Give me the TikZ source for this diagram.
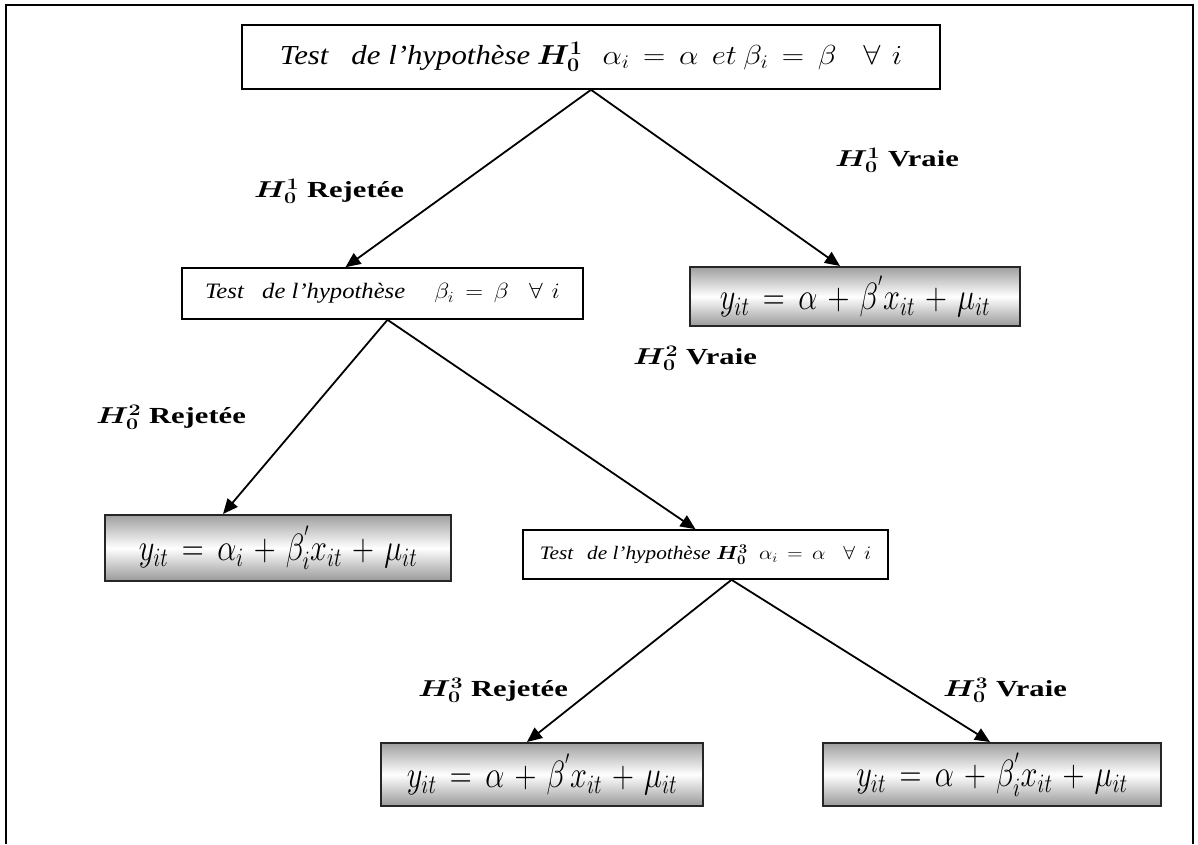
\RequirePackage{fix-cm}
\documentclass[tikz,border=0pt]{standalone}
\usepackage{fontspec}
\setmainfont{Liberation Serif}
\usepackage{bm}
\usepackage{graphicx}
\usetikzlibrary{arrows.meta}
\newcommand{\hsc}[2]{\scalebox{#1}[1]{#2}}
\thickmuskip=8mu plus 2mu
\medmuskip=6mu plus 2mu
\tikzset{
  testbox/.style={draw, line width=1.6pt, fill=white, inner sep=0pt, align=center},
  modelbox/.style={draw=black!85, line width=2pt, inner sep=0pt, top color=gray!75, bottom color=gray!80, middle color=white,
    font=\fontsize{38}{42}\selectfont},
  branch/.style={line width=1.8pt, -{Triangle[length=15pt,width=13pt]}},
  lbl/.style={font=\fontsize{23}{27}\selectfont\bfseries, inner sep=0pt}
}
\begin{document}
\begin{tikzpicture}[x=1pt,y=-1pt]
\useasboundingbox (0,0) rectangle (1198,844);
\draw[line width=1.5pt] (6,844) -- (6,5) -- (1193,5) -- (1193,844);

\node[testbox, minimum width=698pt, minimum height=64pt, font=\fontsize{27.5}{31}\selectfont] (b1) at (591,57)
  {\hsc{1.12}{\textit{Test}\hspace{20pt}\textit{de l’hypothèse}\hspace{6pt}$\bm{H_0^1}$\hspace{18pt}$\alpha_i=\alpha$\hspace{12pt}$et$\hspace{6pt}$\beta_i=\beta$\hspace{24pt}$\forall$\hspace{10pt}$i$}};
\node[testbox, minimum width=401pt, minimum height=51pt, font=\fontsize{22}{26}\selectfont] (b2) at (382.5,293.5)
  {\hsc{1.12}{\textit{Test}\hspace{16pt}\textit{de l’hypothèse}\hspace{26pt}$\beta_i=\beta$\hspace{18pt}$\forall$\hspace{8pt}$i$}};
\node[modelbox, minimum width=330pt, minimum height=59pt] (b3) at (855,296.5)
  {\hsc{0.8}{$y_{it}=\alpha+\beta^{'}x_{it}+\mu_{it}$}};
\node[modelbox, minimum width=346pt, minimum height=66pt] (b4) at (278,548)
  {\hsc{0.8}{$y_{it}=\alpha_i+\beta_i^{'}x_{it}+\mu_{it}$}};
\node[testbox, minimum width=365pt, minimum height=49pt, font=\fontsize{19}{23}\selectfont] (b5) at (705.5,554.5)
  {\hsc{1.12}{\textit{Test}\hspace{12pt}\textit{de l’hypothèse}\hspace{5pt}$\bm{H_0^3}$\hspace{10pt}$\alpha_i=\alpha$\hspace{16pt}$\forall$\hspace{8pt}$i$}};
\node[modelbox, minimum width=322pt, minimum height=63pt] (b6) at (542,774.5)
  {\hsc{0.8}{$y_{it}=\alpha+\beta^{'}x_{it}+\mu_{it}$}};
\node[modelbox, minimum width=338pt, minimum height=63pt] (b7) at (992,774.5)
  {\hsc{0.8}{$y_{it}=\alpha+\beta_i^{'}x_{it}+\mu_{it}$}};

\draw[branch] (b1.south) -- ([xshift=-37pt]b2.north);
\draw[branch] (b1.south) -- ([xshift=-15pt]b3.north);
\draw[branch] ([xshift=5pt]b2.south) -- ([xshift=-55pt]b4.north);
\draw[branch] ([xshift=5pt]b2.south) -- ([xshift=-10pt]b5.north);
\draw[branch] ([xshift=26pt]b5.south) -- ([xshift=-15pt]b6.north);
\draw[branch] ([xshift=26pt]b5.south) -- ([xshift=-2pt]b7.north);

\node[lbl] (l1) at (329,191) {\hsc{1.33}{$\bm{H_0^1}$ Rejetée}};
\node[lbl] (l2) at (897,160) {\hsc{1.33}{$\bm{H_0^1}$ Vraie}};
\node[lbl] (l3) at (171,417) {\hsc{1.33}{$\bm{H_0^2}$ Rejetée}};
\node[lbl] (l4) at (695,358) {\hsc{1.33}{$\bm{H_0^2}$ Vraie}};
\node[lbl] (l5) at (493,690) {\hsc{1.33}{$\bm{H_0^3}$ Rejetée}};
\node[lbl] (l6) at (1005,690) {\hsc{1.33}{$\bm{H_0^3}$ Vraie}};
\end{tikzpicture}
\end{document}
